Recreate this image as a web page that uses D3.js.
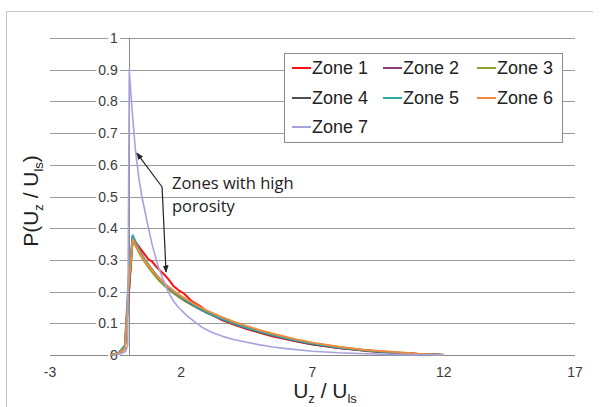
<!DOCTYPE html>
<html lang="en">
<head>
<meta charset="UTF-8" />
<title>P(Uz / Uls)</title>
<style>
  body { margin: 0; background: #fff; }
  svg { display: block; font-family: "Liberation Sans", Arial, sans-serif; }
  .grid { stroke: #9a9a9a; stroke-width: 1; }
  .tick-label { font-size: 14px; fill: #3a3a3a; }
  .legend-text { font-size: 18px; fill: #222; }
  .note { font-family: "Open Sans", sans-serif; font-size: 16.5px; fill: #222; }
</style>
</head>
<body>
<script src="https://cdn.jsdelivr.net/npm/d3@7"></script>
<script>
var width = 603, height = 407;

// axis ticks
var xTicks = [-3, 2, 7, 12, 17];
var yTicks = [0, 0.1, 0.2, 0.3, 0.4, 0.5, 0.6, 0.7, 0.8, 0.9, 1];
var yTickLabels = ["0", "0.1", "0.2", "0.3", "0.4", "0.5", "0.6", "0.7", "0.8", "0.9", "1"];

// zones 1-6 share one x grid
var xMain = [-0.7, -0.4, -0.15, 0, 0.15, 0.3, 0.45, 0.6, 0.75, 0.9, 1.05, 1.2, 1.35, 1.5, 1.7, 1.9, 2.1, 2.4, 2.7, 3.0, 3.5, 4.0, 4.5, 5.0, 5.5, 6.0, 6.5, 7.0, 8.0, 9.0, 10.0, 11.0, 12.0];
var zone1 = [0, 0.004, 0.02, 0.19, 0.37, 0.352, 0.335, 0.318, 0.302, 0.294, 0.278, 0.266, 0.254, 0.24, 0.218, 0.204, 0.194, 0.17, 0.155, 0.136, 0.112, 0.096, 0.082, 0.07, 0.058, 0.05, 0.041, 0.033, 0.022, 0.014, 0.008, 0.003, 0];
var zone2 = [0, 0.005, 0.024, 0.21, 0.368, 0.342, 0.318, 0.3, 0.283, 0.266, 0.25, 0.236, 0.224, 0.212, 0.198, 0.186, 0.174, 0.159, 0.145, 0.132, 0.114, 0.098, 0.084, 0.072, 0.061, 0.051, 0.042, 0.034, 0.022, 0.013, 0.007, 0.003, 0];
var zone3 = [0, 0.004, 0.02, 0.19, 0.365, 0.338, 0.314, 0.294, 0.276, 0.26, 0.245, 0.231, 0.219, 0.208, 0.195, 0.183, 0.172, 0.158, 0.145, 0.133, 0.116, 0.1, 0.087, 0.075, 0.064, 0.054, 0.045, 0.037, 0.025, 0.015, 0.009, 0.003, 0];
var zone4 = [0, 0.005, 0.022, 0.2, 0.372, 0.345, 0.322, 0.302, 0.284, 0.268, 0.252, 0.238, 0.226, 0.214, 0.2, 0.187, 0.175, 0.16, 0.146, 0.133, 0.115, 0.099, 0.085, 0.073, 0.062, 0.052, 0.043, 0.035, 0.023, 0.014, 0.008, 0.003, 0];
var zone5 = [0, 0.006, 0.03, 0.25, 0.378, 0.35, 0.324, 0.303, 0.285, 0.268, 0.253, 0.239, 0.226, 0.214, 0.2, 0.188, 0.176, 0.161, 0.147, 0.134, 0.116, 0.1, 0.086, 0.074, 0.063, 0.053, 0.044, 0.036, 0.024, 0.015, 0.009, 0.003, 0];
var zone6 = [0, 0.005, 0.02, 0.22, 0.365, 0.34, 0.318, 0.298, 0.282, 0.266, 0.252, 0.239, 0.227, 0.216, 0.203, 0.191, 0.18, 0.166, 0.152, 0.139, 0.121, 0.105, 0.091, 0.078, 0.067, 0.057, 0.047, 0.039, 0.026, 0.016, 0.01, 0.004, 0];

// zone 7 has its own sharper peak
var x7 = [-0.6, -0.3, -0.12, -0.04, 0.02, 0.12, 0.25, 0.38, 0.5, 0.7, 0.9, 1.1, 1.3, 1.5, 1.7, 1.9, 2.2, 2.5, 2.8, 3.2, 3.6, 4.0, 4.5, 5.0, 5.5, 6.0, 7.0, 8.0, 9.0, 10.0, 11.0, 12.0];
var zone7 = [0, 0.004, 0.012, 0.03, 0.9, 0.78, 0.65, 0.56, 0.5, 0.42, 0.345, 0.285, 0.24, 0.2, 0.17, 0.15, 0.125, 0.105, 0.087, 0.07, 0.058, 0.049, 0.04, 0.032, 0.025, 0.02, 0.012, 0.007, 0.004, 0.002, 0.001, 0];

var zoneNames = ["Zone 1", "Zone 2", "Zone 3", "Zone 4", "Zone 5", "Zone 6", "Zone 7"];
var zoneColors = ["#ff1010", "#8a3f78", "#8fa032", "#505050", "#2fa8a8", "#f08a3c", "#a3a3e0"];

var series = [
  {name: zoneNames[0], xs: xMain, ys: zone1, color: zoneColors[0], w: 2},
  {name: zoneNames[1], xs: xMain, ys: zone2, color: zoneColors[1], w: 2},
  {name: zoneNames[2], xs: xMain, ys: zone3, color: zoneColors[2], w: 2},
  {name: zoneNames[3], xs: xMain, ys: zone4, color: zoneColors[3], w: 2},
  {name: zoneNames[4], xs: xMain, ys: zone5, color: zoneColors[4], w: 2},
  {name: zoneNames[5], xs: xMain, ys: zone6, color: zoneColors[5], w: 2},
  {name: zoneNames[6], xs: x7, ys: zone7, color: zoneColors[6], w: 1.6}
];

var svg = d3.select("body").append("svg")
  .attr("width", width)
  .attr("height", height);

// chart frame (top and left edges only are visible)
svg.append("line").attr("x1", 6).attr("x2", 593).attr("y1", 11.5).attr("y2", 11.5)
  .attr("stroke", "#c4c4c4");
svg.append("line").attr("x1", 6.5).attr("x2", 6.5).attr("y1", 11).attr("y2", 407)
  .attr("stroke", "#c4c4c4");

var x = d3.scaleLinear().domain([-3, 17]).range([50, 575]);
var y = d3.scaleLinear().domain([0, 1]).range([355, 38]);

// horizontal gridlines
svg.selectAll(".grid").data(yTicks.slice(1)).enter().append("line")
  .attr("class", "grid")
  .attr("x1", x(-3)).attr("x2", x(17))
  .attr("y1", function(d) { return Math.round(y(d)) + 0.5; })
  .attr("y2", function(d) { return Math.round(y(d)) + 0.5; });

// x axis line at y = 0
svg.append("line")
  .attr("x1", x(-3)).attr("x2", x(17))
  .attr("y1", Math.round(y(0)) + 0.5).attr("y2", Math.round(y(0)) + 0.5)
  .attr("stroke", "#8a8a8a");

// y axis line at x = 0
svg.append("line")
  .attr("x1", Math.round(x(0)) + 0.5).attr("x2", Math.round(x(0)) + 0.5)
  .attr("y1", y(1)).attr("y2", y(0))
  .attr("stroke", "#8a8a8a");

// y tick labels sit on the gridlines with a white box behind them
var yl = svg.selectAll(".ylab").data(yTicks).enter().append("g")
  .attr("class", "ylab")
  .attr("transform", function(d) { return "translate(" + (x(0) - 11) + "," + y(d) + ")"; });
yl.append("text")
  .attr("class", "tick-label")
  .attr("text-anchor", "end")
  .attr("dy", "0.36em")
  .text(function(d, i) { return yTickLabels[i]; });
yl.each(function() {
  var g = d3.select(this);
  var b = g.select("text").node().getBBox();
  g.insert("rect", "text")
    .attr("x", b.x - 2).attr("y", b.y).attr("width", b.width + 4).attr("height", b.height)
    .attr("fill", "#fff");
});

// x tick labels
svg.selectAll(".xlab").data(xTicks).enter().append("text")
  .attr("class", "tick-label")
  .attr("x", function(d) { return x(d); })
  .attr("y", 377)
  .attr("text-anchor", "middle")
  .text(function(d) { return d; });

// series lines
var line = d3.line()
  .x(function(d) { return x(d[0]); })
  .y(function(d) { return y(d[1]); });

svg.selectAll(".zone").data(series).enter().append("path")
  .attr("class", "zone")
  .attr("fill", "none")
  .attr("stroke", function(d) { return d.color; })
  .attr("stroke-width", function(d) { return d.w; })
  .attr("stroke-linejoin", "round")
  .attr("d", function(d) { return line(d3.zip(d.xs, d.ys)); });

// annotation with two arrows
var defs = svg.append("defs");
defs.append("marker")
  .attr("id", "arrow")
  .attr("viewBox", "0 0 10 10")
  .attr("refX", 9).attr("refY", 5)
  .attr("markerWidth", 6).attr("markerHeight", 6)
  .attr("orient", "auto")
  .append("path").attr("d", "M0,1 L10,5 L0,9 Z").attr("fill", "#222");

var knee = [1.27, 0.53];
var tip7 = [0.31, 0.637];
var tip1 = [1.42, 0.262];
svg.append("line")
  .attr("x1", x(knee[0])).attr("y1", y(knee[1]))
  .attr("x2", x(tip7[0])).attr("y2", y(tip7[1]))
  .attr("stroke", "#222").attr("stroke-width", 1.2)
  .attr("marker-end", "url(#arrow)");
svg.append("line")
  .attr("x1", x(knee[0])).attr("y1", y(knee[1]))
  .attr("x2", x(tip1[0])).attr("y2", y(tip1[1]))
  .attr("stroke", "#222").attr("stroke-width", 1.2)
  .attr("marker-end", "url(#arrow)");

svg.append("text").attr("class", "note").attr("x", 172).attr("y", 189).text("Zones with high");
svg.append("text").attr("class", "note").attr("x", 172).attr("y", 212).text("porosity");

// legend
svg.append("rect")
  .attr("x", 284.5).attr("y", 53.5).attr("width", 278).attr("height", 89)
  .attr("fill", "#fff").attr("stroke", "#8c8c8c");

var legendCols = [292, 383, 477];
var legendRows = [68, 98, 127];
var lg = svg.selectAll(".leg").data(series).enter().append("g")
  .attr("class", "leg")
  .attr("transform", function(d, i) {
    return "translate(" + legendCols[i % 3] + "," + legendRows[Math.floor(i / 3)] + ")";
  });
lg.append("line")
  .attr("x1", 0).attr("x2", 19).attr("y1", 0).attr("y2", 0)
  .attr("stroke", function(d) { return d.color; })
  .attr("stroke-width", 2);
lg.append("text")
  .attr("class", "legend-text")
  .attr("x", 20).attr("dy", "0.36em")
  .text(function(d) { return d.name; });

// axis titles
var xt = svg.append("text")
  .attr("x", 325).attr("y", 398)
  .attr("text-anchor", "middle")
  .attr("font-size", 21).attr("fill", "#222");
xt.append("tspan").text("U");
xt.append("tspan").attr("font-size", 13).attr("dy", 5).text("z");
xt.append("tspan").attr("dy", -5).text(" / U");
xt.append("tspan").attr("font-size", 13).attr("dy", 5).text("ls");

var yt = svg.append("text")
  .attr("transform", "translate(38,201) rotate(-90)")
  .attr("text-anchor", "middle")
  .attr("font-size", 21).attr("fill", "#222");
yt.append("tspan").text("P(U");
yt.append("tspan").attr("font-size", 13).attr("dy", 5).text("z");
yt.append("tspan").attr("dy", -5).text(" / U");
yt.append("tspan").attr("font-size", 13).attr("dy", 5).text("ls");
yt.append("tspan").attr("dy", -5).text(")");
</script>
</body>
</html>
